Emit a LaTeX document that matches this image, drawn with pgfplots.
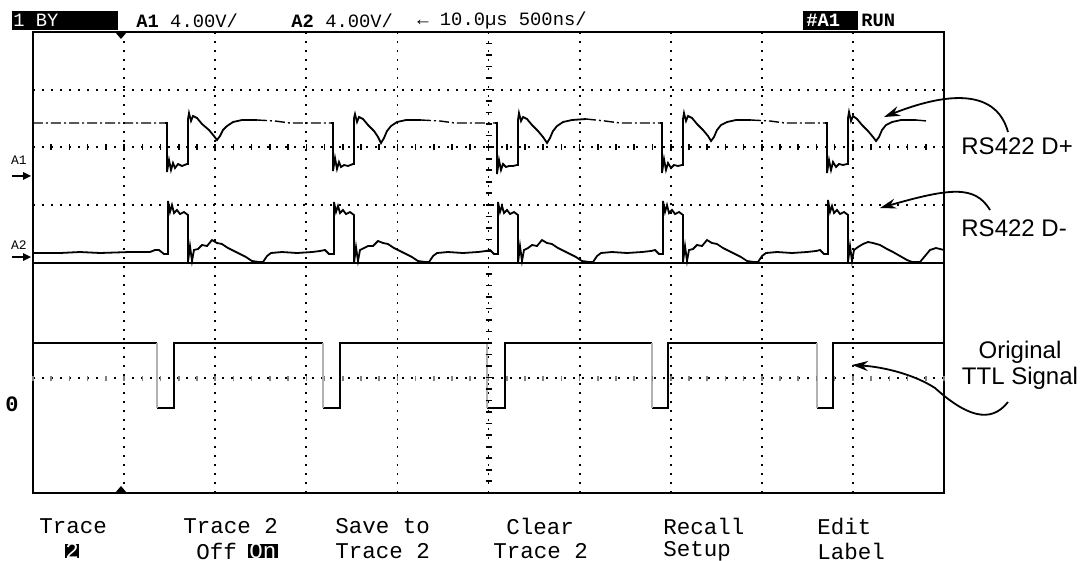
\documentclass[border=0pt]{standalone}
\usepackage{pgfplots}
\pgfplotsset{compat=1.18}
\usepackage{fontspec}
\setmainfont{Liberation Sans}
\newfontfamily\scopefont{Liberation Mono}
\usetikzlibrary{arrows.meta}

\begin{document}
\begin{tikzpicture}
% screen area, data in screen pixels (y downwards)
\begin{axis}[
  at={(16.5pt,-246.5pt)}, anchor=south west,
  scale only axis, width=455.5pt, height=230.5pt,
  xmin=33, xmax=944, ymin=32, ymax=493, y dir=reverse,
  axis line style={line width=1pt},
  xtick={124.1,215.2,306.3,397.4,488.5,579.6,670.7,761.8,852.9},
  ytick={89.6,147.2,204.8,378.1},
  xticklabel={\relax}, yticklabel={\relax},
  major tick length=0pt,
  grid=major,
  grid style={black, line width=0.9pt, dash pattern=on 0.9pt off 3.6pt},
  unbounded coords=jump,
  clip=false,
]
% split line
\addplot[black, line width=1pt] coordinates {(33,263) (944,263)};

% A1 : RS422 D+ (flat parts)
\addplot[black, line width=0.7pt, dash pattern=on 5pt off 1.5pt on 1pt off 1.5pt] coordinates {
(33,123) (165,123) (nan,nan)
(257,120) (275,121) (290,123) (331,123) (nan,nan)
(421,120) (440,121) (455,123) (495,123) (nan,nan)
(586,119) (605,121) (620,123) (660,123) (nan,nan)
(751,120) (770,121) (785,123) (825,123) (nan,nan)
(916,120) (927,121)
};
% A1 : RS422 D+ (edges)
\addplot[black, line width=0.9pt] coordinates {
(165,123)(167,123)(167,172)(169,160)(171,170)(173,163)(175,168)(178,164)(182,166)(187,164)(188,164)(188,119)(189,113)(191,121)(193,116)(197,118)(202,124)(209,130)(214,136)(217,140)(220,136)(223,130)(227,126)(233,122)(242,120)(257,120) (nan,nan)
(331,123)(333,123)(333,171)(335,158)(337,169)(339,162)(341,167)(344,165)(348,166)(353,164)(354,164)(354,118)(355,114)(357,122)(359,117)(363,119)(368,125)(374,131)(378,137)(381,143)(384,138)(387,131)(391,126)(397,122)(406,120)(421,120) (nan,nan)
(495,123)(497,123)(497,174)(499,160)(501,170)(503,164)(506,167)(509,166)(513,166)(517,165)(518,165)(518,120)(519,113)(521,121)(523,117)(527,119)(532,125)(538,131)(543,137)(547,143)(550,138)(553,131)(557,126)(563,122)(572,120)(586,119) (nan,nan)
(660,123)(662,123)(662,173)(664,159)(666,170)(668,163)(671,168)(674,165)(678,166)(682,165)(683,165)(683,119)(684,113)(686,121)(688,116)(692,118)(697,124)(703,130)(708,136)(711,141)(714,137)(717,130)(721,125)(727,122)(736,120)(751,120) (nan,nan)
(825,123)(827,123)(827,173)(829,160)(831,170)(833,162)(836,167)(839,164)(843,165)(847,164)(848,164)(848,118)(849,112)(851,121)(853,116)(857,119)(862,125)(868,131)(873,137)(876,141)(879,137)(882,130)(886,125)(892,122)(901,120)(916,120)
};

% A2 : RS422 D-
\addplot[black, line width=0.9pt] coordinates {
(33,253)(60,253)(80,252)(100,253)(130,252)(150,252)(155,250)(159,250)(164,254)(168,254)
(168,201)(170,212)(172,205)(174,213)(177,210)(180,214)(184,212)(188,215)(188,262)(190,246)(192,261)(194,250)(198,249)(202,245)(207,246)(212,240)(217,243)(222,244)(228,248)(234,251)(240,254)(246,257)(252,261)(259,262)(263,262)(267,256)(271,253)(282,252)(297,253)(312,252)(320,251)(325,250)(329,254)
(334,254)(334,202)(336,212)(338,206)(340,213)(343,210)(346,214)(350,212)(354,215)(354,263)(356,247)(358,261)(360,250)(364,248)(368,246)(373,246)(378,241)(383,243)(388,244)(394,248)(400,251)(406,254)(412,257)(418,261)(425,262)(429,262)(433,256)(437,253)(448,252)(463,253)(478,252)(486,251)(490,250)(494,254)
(498,254)(498,202)(500,212)(502,206)(504,213)(507,210)(510,214)(514,212)(518,215)(518,263)(520,246)(522,261)(524,250)(528,248)(532,245)(537,246)(542,240)(547,243)(552,244)(558,248)(564,251)(570,254)(576,257)(582,261)(589,262)(593,262)(597,256)(601,253)(612,252)(627,253)(642,252)(651,251)(655,250)(659,254)
(663,254)(663,201)(665,212)(667,205)(669,213)(672,210)(675,214)(679,212)(683,215)(683,262)(685,246)(687,261)(689,250)(693,249)(697,245)(702,246)(707,240)(712,243)(717,244)(723,248)(729,251)(735,254)(741,257)(747,261)(754,262)(758,262)(762,256)(766,253)(777,252)(792,253)(807,252)(816,251)(820,250)(824,254)
(828,254)(828,200)(830,212)(832,206)(834,213)(837,210)(840,214)(844,212)(848,215)(848,262)(850,246)(852,261)(854,250)(858,247)(863,244)(868,242)(873,243)(880,245)(887,249)(893,252)(900,256)(907,260)(912,262)(920,262)(925,256)(930,250)(936,248)(944,250)
};

% original TTL signal
\addplot[black, line width=0.9pt] coordinates {
(33,343)(157,343) (nan,nan)
(157,408)(174,408)(174,343)(323,343) (nan,nan)
(323,408)(340,408)(340,343)(487,343) (nan,nan)
(487,408)(505,408)(505,343)(652,343) (nan,nan)
(652,408)(668,408)(668,343)(817,343) (nan,nan)
(817,408)(833,408)(833,343)(944,343)
};
\addplot[gray!60, line width=0.7pt] coordinates {
(157,343)(157,408) (nan,nan)
(323,343)(323,408) (nan,nan)
(487,343)(487,408) (nan,nan)
(652,343)(652,408) (nan,nan)
(817,343)(817,408)
};
\end{axis}

\begin{scope}[x=0.5pt, y=-0.5pt]
% minor ticks on the centre lines
\foreach \i in {0,...,50} {
  \draw[line width=0.8pt] ({33+18.22*\i},144.5) -- ({33+18.22*\i},150);
  \draw[line width=0.8pt, gray] ({33+18.22*\i},375.5) -- ({33+18.22*\i},381);
}
\foreach \i in {0,...,40} {
  \draw[line width=0.8pt] (485.5,{32+11.52*\i}) -- (491.5,{32+11.52*\i});
}
% trigger markers
\fill (115,32) -- (127,32) -- (121,39) -- cycle;
\fill (115,493) -- (127,493) -- (121,486) -- cycle;

% header
\fill (12,11) rectangle (118,30);
\node[anchor=west, text=white, font=\scopefont\fontsize{9.4}{10}\selectfont, inner sep=0] at (13,20.5) {1 BY};
\node[anchor=west, font=\scopefont\fontsize{9.4}{10}\selectfont, inner sep=0] at (136,20.5) {\textbf{A1} 4.00V/};
\node[anchor=west, font=\scopefont\fontsize{9.4}{10}\selectfont, inner sep=0] at (291,20.5) {\textbf{A2} 4.00V/};
\node[anchor=west, font=\scopefont\fontsize{9.4}{10}\selectfont, inner sep=0] at (417,20.5) {← 10.0µs 500ns/};
\fill (803,11) rectangle (858,30);
\node[anchor=west, text=white, font=\scopefont\bfseries\fontsize{9.4}{10}\selectfont, inner sep=0] at (806,20.5) {\#A1};
\node[anchor=west, font=\scopefont\bfseries\fontsize{9.4}{10}\selectfont, inner sep=0] at (861,20.5) {RUN};

% channel markers
\node[font=\scopefont\fontsize{6.5}{7}\selectfont, inner sep=0] at (19,160) {A1};
\draw[line width=1.2pt] (12,176) -- (24,176);
\fill (23,172) -- (31,176) -- (23,180) -- cycle;
\node[font=\scopefont\fontsize{6.5}{7}\selectfont, inner sep=0] at (19,245) {A2};
\draw[line width=1.2pt] (12,257) -- (24,257);
\fill (23,253) -- (31,257) -- (23,261) -- cycle;
\node[font=\scopefont\bfseries\fontsize{11}{12}\selectfont, inner sep=0] at (12,404) {0};

% right-hand labels and pointers
\node[anchor=west, font=\fontsize{12}{14}\selectfont, inner sep=0] at (961,146) {RS422 D+};
\node[anchor=west, font=\fontsize{12}{14}\selectfont, inner sep=0] at (961,228) {RS422 D-};
\node[align=center, font=\fontsize{12}{13}\selectfont, inner sep=0] at (1020,365) {Original\\TTL Signal};
\draw[line width=0.9pt, -{Stealth[length=8pt,width=5pt]}] (1008,132) .. controls (995,85) and (940,95) .. (884,117);
\draw[line width=0.9pt, -{Stealth[length=8pt,width=5pt]}] (990,210) .. controls (975,185) and (950,188) .. (880,208);
\draw[line width=0.9pt, -{Stealth[length=8pt,width=5pt]}] (1008,402) .. controls (990,425) and (965,415) .. (935,388) .. controls (915,375) and (885,367) .. (852,365);

% soft-key menu
\begin{scope}[every node/.style={anchor=west, inner sep=0, font=\scopefont\fontsize{11.25}{12}\selectfont}]
\node at (39,526) {Trace};
\fill (65,544) rectangle (79,558);
\node[anchor=center, text=white] at (72,551) {2};
\node at (183,526) {Trace 2};
\node at (196,551) {Off};
\fill (248,544) rectangle (278,558);
\node[text=white] at (249,551) {On};
\node at (335,526) {Save to};
\node at (335,551) {Trace 2};
\node at (506,526) {Clear};
\node at (493,551) {Trace 2};
\node at (663,526) {Recall};
\node at (663,551) {Setup};
\node at (817,526) {Edit};
\node at (817,551) {Label};
\end{scope}
\end{scope}

\pgfresetboundingbox
\path[x=0.5pt, y=-0.5pt] (0,0) rectangle (1080,561);
\end{tikzpicture}
\end{document}
